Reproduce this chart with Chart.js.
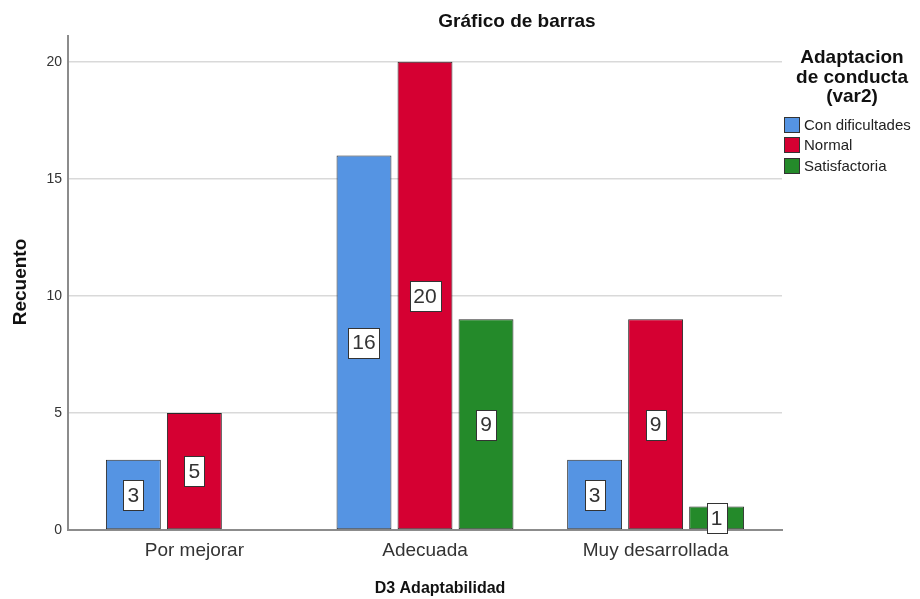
<!DOCTYPE html>
<html>
<head>
<meta charset="utf-8">
<script src="https://cdn.jsdelivr.net/npm/chart.js@4/dist/chart.umd.min.js"></script>
<style>
html,body{margin:0;padding:0;background:#fff;}
#wrap{width:920px;height:599px;position:relative;}
</style>
</head>
<body>
<div id="wrap"><canvas id="c" width="920" height="599"></canvas></div>
<script>
const categories = ["Por mejorar", "Adecuada", "Muy desarrollada"];
const seriesNames = ["Con dificultades", "Normal", "Satisfactoria"];
const conDificultades = [3, 16, 3];
const normal = [5, 20, 9];
const satisfactoria = [0, 9, 1];
const yTicks = [0, 5, 10, 15, 20];
const chartTitle = "Gráfico de barras";
const xTitle = "D3 Adaptabilidad";
const yTitle = "Recuento";
const legendTitle = ["Adaptacion", "de conducta", "(var2)"];

const colors = ["#5594e3", "#d50032", "#248a2a"];
const series = [conDificultades, normal, satisfactoria];

const toPoints = arr => arr.map((v, i) => ({x: i, y: v}));

const extras = {
  id: 'extras',
  afterDatasetsDraw(chart) {
    const ctx = chart.ctx;
    const y = chart.scales.y;
    ctx.save();
    chart.data.datasets.forEach((ds, di) => {
      const meta = chart.getDatasetMeta(di);
      meta.data.forEach((bar, i) => {
        const v = ds.data[i].y;
        if (!v) return;
        const cy = y.getPixelForValue(v / 2);
        ctx.font = '21px "Liberation Sans Narrow", "Liberation Sans", Arial, sans-serif';
        const t = String(v);
        const tw = ctx.measureText(t).width;
        const w = Math.round(tw + 8), h = 30;
        const x0 = Math.round(bar.x - w / 2) + 0.5, y0 = Math.round(cy - h / 2) + 0.5;
        ctx.fillStyle = '#fff';
        ctx.fillRect(x0, y0, w, h);
        ctx.strokeStyle = '#333';
        ctx.lineWidth = 1;
        ctx.strokeRect(x0, y0, w, h);
        ctx.fillStyle = '#333';
        ctx.textAlign = 'center';
        ctx.textBaseline = 'middle';
        ctx.fillText(t, bar.x, cy + 1);
      });
    });
    ctx.fillStyle = '#111';
    ctx.textAlign = 'center';
    ctx.textBaseline = 'alphabetic';
    ctx.font = 'bold 19px "Liberation Sans", Arial, sans-serif';
    ctx.fillText(chartTitle, 517, 27);
    ctx.font = 'bold 16px "Liberation Sans", Arial, sans-serif';
    ctx.fillText(xTitle, 440, 593);
    ctx.save();
    ctx.translate(26, 282);
    ctx.rotate(-Math.PI / 2);
    ctx.font = 'bold 19px "Liberation Sans", Arial, sans-serif';
    ctx.fillText(yTitle, 0, 0);
    ctx.restore();
    ctx.font = 'bold 19px "Liberation Sans", Arial, sans-serif';
    const bl = [63, 83, 102];
    legendTitle.forEach((l, i) => ctx.fillText(l, 852, bl[i]));
    const by = [117, 137, 158];
    ctx.textAlign = 'left';
    ctx.textBaseline = 'middle';
    ctx.font = '15px "Liberation Sans", Arial, sans-serif';
    seriesNames.forEach((n, i) => {
      ctx.fillStyle = colors[i];
      ctx.fillRect(784.5, by[i] + 0.5, 15, 15);
      ctx.strokeStyle = '#333';
      ctx.lineWidth = 1;
      ctx.strokeRect(784.5, by[i] + 0.5, 15, 15);
      ctx.fillStyle = '#222';
      ctx.fillText(n, 804, by[i] + 8.5);
    });
    ctx.restore();
  }
};

new Chart(document.getElementById('c'), {
  type: 'bar',
  data: {
    datasets: series.map((s, i) => ({
      label: seriesNames[i],
      data: toPoints(s),
      backgroundColor: colors[i],
      borderColor: '#2a2a2a',
      borderWidth: 1,
      borderSkipped: false,
      categoryPercentage: 0.7936,
      barPercentage: 0.9
    }))
  },
  options: {
    responsive: false,
    animation: false,
    events: [],
    layout: {padding: {left: 0, top: 36, right: 138, bottom: 0}},
    plugins: {legend: {display: false}, tooltip: {enabled: false}, title: {display: false}},
    scales: {
      x: {
        type: 'linear',
        offset: false,
        min: -0.548,
        max: 2.548,
        afterFit(s) { s.height = 69; },
        afterBuildTicks(s) { s.ticks = categories.map((_, i) => ({value: i})); },
        grid: {display: false, drawTicks: false, offset: false},
        border: {display: true, color: '#8c8c8c', width: 2},
        ticks: {
          padding: 9,
          color: '#333',
          font: {family: '"Liberation Sans", Arial, sans-serif', size: 19},
          maxRotation: 0,
          autoSkip: false,
          callback: v => categories[v]
        }
      },
      y: {
        min: 0,
        max: 21.1,
        afterFit(s) { s.width = 68; },
        afterBuildTicks(s) { s.ticks = yTicks.map(v => ({value: v})); },
        grid: {color: '#d9d9d9', lineWidth: 1.5, drawTicks: false},
        border: {display: true, color: '#8c8c8c', width: 2},
        ticks: {
          padding: 6,
          color: '#333',
          font: {family: '"Liberation Sans", Arial, sans-serif', size: 14}
        }
      }
    }
  },
  plugins: [extras]
});
</script>
</body>
</html>
